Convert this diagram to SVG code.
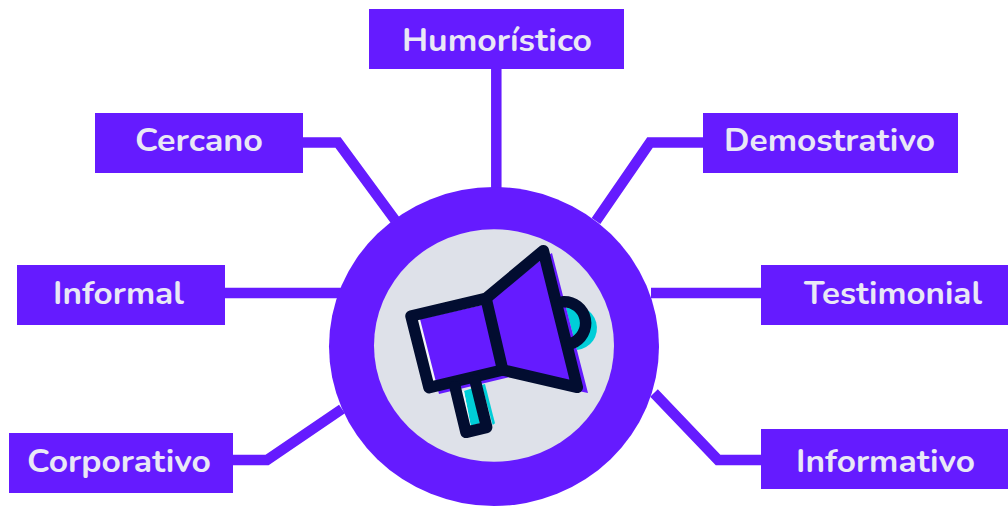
<svg xmlns="http://www.w3.org/2000/svg" width="1008" height="506" viewBox="0 0 1008 506">
<style>
.box{fill:#651bff}
.lbl{font-family:"Nunito","Lato","Noto Sans",sans-serif;font-weight:700;font-size:31px;fill:#e9e8f6}
.con{fill:none;stroke:#651bff;stroke-width:10.500}
.ink{fill:none;stroke:#020d30;stroke-width:11.500;stroke-linejoin:round;stroke-linecap:round}
</style>
<rect width="1008" height="506" fill="#fff"/>
<g id="connectors">
<path class="con" d="M496.300 69V192"/>
<path class="con" d="M303 142.500H338L395 220"/>
<path class="con" d="M703 142.500H650L596 221"/>
<path class="con" d="M225 293H345"/>
<path class="con" d="M651 293H761"/>
<path class="con" d="M233 460H267L342 409"/>
<path class="con" d="M761 460H718L654 393"/>
</g>
<g id="hub">
<ellipse cx="494" cy="346.500" rx="165" ry="159.500" fill="#651bff"/>
<ellipse cx="494" cy="345.500" rx="120" ry="116.300" fill="#dee1e9"/>
</g>
<g id="megaphone">
<path fill="#00ced8" d="M566 308A22 22 0 1 1 577 350Z"/>
<path fill="#00ced8" d="M481.700 385L485 384L495 423.300L492.700 425Z"/>
<path fill="#00ced8" d="M464 391L472.300 388.300L480 423.300L470.700 425.700Z"/>
<path fill="#f4f5f8" d="M460.700 391.700L464 390.700L470.700 425.700L468.300 426.700Z"/>
<path fill="#f4f5f8" d="M411 316L486 298L543 251L577 387L503 370L429 388Z"/>
<path fill="#651bff" d="M420 319L482 305L491 300L542 259L552 253L588 393L510 377L439 394Z"/>
<path class="ink" d="M411 316L486 298.300L543.300 250.700L577.300 387.300L502.700 370L429 387.700Z"/>
<path class="ink" d="M486 298.300L502.700 370"/>
<path class="ink" d="M455 386.700L466 432.300L486.700 427.300L475 380"/>
<path class="ink" d="M563.300 301.700A21.500 21.500 0 0 1 571.700 343.300"/>
</g>
<g id="n-humoristico"><rect class="box" x="369" y="9" width="255" height="60"/><text class="lbl" x="402" y="51" textLength="190" lengthAdjust="spacingAndGlyphs">Humorístico</text></g>
<g id="n-cercano"><rect class="box" x="95" y="113" width="208" height="60"/><text class="lbl" x="135" y="151" textLength="128" lengthAdjust="spacingAndGlyphs">Cercano</text></g>
<g id="n-demostrativo"><rect class="box" x="703" y="113" width="255" height="60"/><text class="lbl" x="724" y="151" textLength="211" lengthAdjust="spacingAndGlyphs">Demostrativo</text></g>
<g id="n-informal"><rect class="box" x="17" y="265" width="208" height="60"/><text class="lbl" x="53" y="304" textLength="131" lengthAdjust="spacingAndGlyphs">Informal</text></g>
<g id="n-testimonial"><rect class="box" x="761" y="265" width="247" height="60"/><text class="lbl" x="804" y="304" textLength="178" lengthAdjust="spacingAndGlyphs">Testimonial</text></g>
<g id="n-corporativo"><rect class="box" x="9" y="433" width="224" height="60"/><text class="lbl" x="27" y="472" textLength="184" lengthAdjust="spacingAndGlyphs">Corporativo</text></g>
<g id="n-informativo"><rect class="box" x="761" y="429" width="247" height="60"/><text class="lbl" x="796" y="472" textLength="179" lengthAdjust="spacingAndGlyphs">Informativo</text></g>
</svg>
